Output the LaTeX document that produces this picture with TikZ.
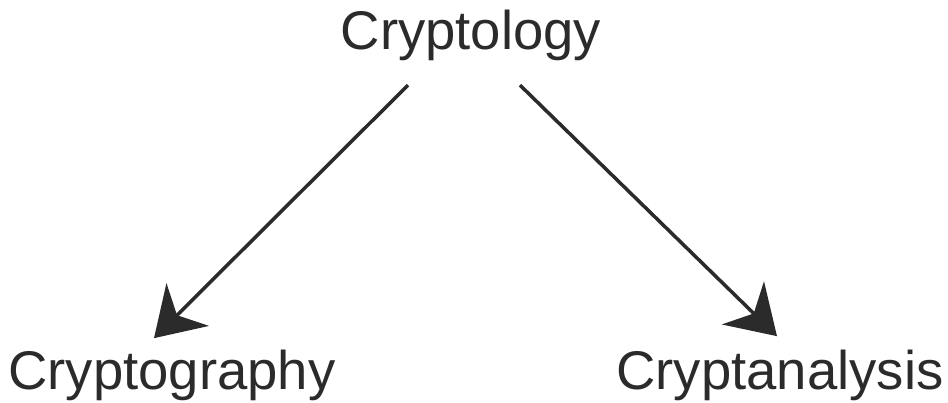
\documentclass[tikz,border=0pt]{standalone}
\usepackage{fontspec}
\setmainfont{Liberation Sans}
\usetikzlibrary{arrows.meta}
\definecolor{ink}{HTML}{2B2B2B}
\tikzset{
  vterm/.style={font=\fontsize{31}{37}\selectfont,text=ink,inner sep=0pt,anchor=base},
  varr/.style={-{Stealth[length=9.5mm,width=12mm,inset=3mm]},line width=2pt,draw=ink}
}
\begin{document}
\begin{tikzpicture}
  \useasboundingbox (0,0) rectangle (18.96,8.06);
  % terms
  \node[vterm] (ctop) at (9.42,7.06) {Cryptology};
  \node[vterm] (cgraph) at (3.44,0.26) {Cryptography};
  \node[vterm] (canal) at (15.6,0.26) {Cryptanalysis};
  % branches
  \draw[varr] ([xshift=-1.26cm,yshift=-0.47cm]ctop.south) -- ([xshift=-0.36cm,yshift=0.24cm]cgraph.north);
  \draw[varr] ([xshift=0.98cm,yshift=-0.47cm]ctop.south) -- ([xshift=-0.06cm,yshift=0.28cm]canal.north);
\end{tikzpicture}
\end{document}
